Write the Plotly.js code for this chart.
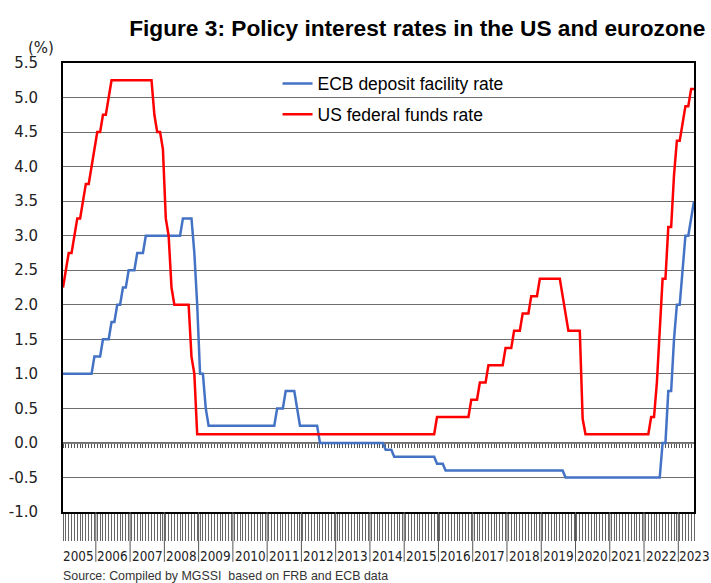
<!DOCTYPE html>
<html><head><meta charset="utf-8">
<script src="https://cdn.plot.ly/plotly-3.0.1.min.js"></script>
<style>html,body{margin:0;padding:0;background:#fff}</style>
</head><body><div id="chart" style="width:711px;height:583px"></div>
<script>
// ---- data (monthly, Jan 2005 - Jun 2023) ----
const years = [2005,2006,2007,2008,2009,2010,2011,2012,2013,2014,2015,2016,2017,2018,2019,2020,2021,2022,2023];

const ecbDepositRate = [
  1,1,1,1,1,1,1,1,1,1,1,1.25,                                  // 2005
  1.25,1.25,1.5,1.5,1.5,1.75,1.75,2,2,2.25,2.25,2.5,           // 2006
  2.5,2.5,2.75,2.75,2.75,3,3,3,3,3,3,3,                        // 2007
  3,3,3,3,3,3,3.25,3.25,3.25,3.25,2.75,2,                      // 2008
  1,1,0.5,0.25,0.25,0.25,0.25,0.25,0.25,0.25,0.25,0.25,        // 2009
  0.25,0.25,0.25,0.25,0.25,0.25,0.25,0.25,0.25,0.25,0.25,0.25, // 2010
  0.25,0.25,0.25,0.5,0.5,0.5,0.75,0.75,0.75,0.75,0.5,0.25,     // 2011
  0.25,0.25,0.25,0.25,0.25,0.25,0,0,0,0,0,0,                   // 2012
  0,0,0,0,0,0,0,0,0,0,0,0,                                     // 2013
  0,0,0,0,0,-0.1,-0.1,-0.1,-0.2,-0.2,-0.2,-0.2,                // 2014
  -0.2,-0.2,-0.2,-0.2,-0.2,-0.2,-0.2,-0.2,-0.2,-0.2,-0.2,-0.3, // 2015
  -0.3,-0.3,-0.4,-0.4,-0.4,-0.4,-0.4,-0.4,-0.4,-0.4,-0.4,-0.4, // 2016
  -0.4,-0.4,-0.4,-0.4,-0.4,-0.4,-0.4,-0.4,-0.4,-0.4,-0.4,-0.4, // 2017
  -0.4,-0.4,-0.4,-0.4,-0.4,-0.4,-0.4,-0.4,-0.4,-0.4,-0.4,-0.4, // 2018
  -0.4,-0.4,-0.4,-0.4,-0.4,-0.4,-0.4,-0.4,-0.5,-0.5,-0.5,-0.5, // 2019
  -0.5,-0.5,-0.5,-0.5,-0.5,-0.5,-0.5,-0.5,-0.5,-0.5,-0.5,-0.5, // 2020
  -0.5,-0.5,-0.5,-0.5,-0.5,-0.5,-0.5,-0.5,-0.5,-0.5,-0.5,-0.5, // 2021
  -0.5,-0.5,-0.5,-0.5,-0.5,-0.5,0,0,0.75,0.75,1.5,2,           // 2022
  2,2.5,3,3,3.25,3.5                                           // 2023
];

const usFedFundsRate = [
  2.25,2.5,2.75,2.75,3,3.25,3.25,3.5,3.75,3.75,4,4.25,                 // 2005
  4.5,4.5,4.75,4.75,5,5.25,5.25,5.25,5.25,5.25,5.25,5.25,              // 2006
  5.25,5.25,5.25,5.25,5.25,5.25,5.25,5.25,4.75,4.5,4.5,4.25,           // 2007
  3.25,3,2.25,2,2,2,2,2,2,1.25,1,0.125,                                // 2008
  0.125,0.125,0.125,0.125,0.125,0.125,0.125,0.125,0.125,0.125,0.125,0.125, // 2009
  0.125,0.125,0.125,0.125,0.125,0.125,0.125,0.125,0.125,0.125,0.125,0.125, // 2010
  0.125,0.125,0.125,0.125,0.125,0.125,0.125,0.125,0.125,0.125,0.125,0.125, // 2011
  0.125,0.125,0.125,0.125,0.125,0.125,0.125,0.125,0.125,0.125,0.125,0.125, // 2012
  0.125,0.125,0.125,0.125,0.125,0.125,0.125,0.125,0.125,0.125,0.125,0.125, // 2013
  0.125,0.125,0.125,0.125,0.125,0.125,0.125,0.125,0.125,0.125,0.125,0.125, // 2014
  0.125,0.125,0.125,0.125,0.125,0.125,0.125,0.125,0.125,0.125,0.125,0.375, // 2015
  0.375,0.375,0.375,0.375,0.375,0.375,0.375,0.375,0.375,0.375,0.375,0.625, // 2016
  0.625,0.625,0.875,0.875,0.875,1.125,1.125,1.125,1.125,1.125,1.125,1.375, // 2017
  1.375,1.375,1.625,1.625,1.625,1.875,1.875,1.875,2.125,2.125,2.125,2.375, // 2018
  2.375,2.375,2.375,2.375,2.375,2.375,2.375,2.125,1.875,1.625,1.625,1.625, // 2019
  1.625,1.625,0.35,0.125,0.125,0.125,0.125,0.125,0.125,0.125,0.125,0.125,  // 2020
  0.125,0.125,0.125,0.125,0.125,0.125,0.125,0.125,0.125,0.125,0.125,0.125, // 2021
  0.125,0.125,0.375,0.375,0.875,1.625,2.375,2.375,3.125,3.125,3.875,4.375, // 2022
  4.375,4.625,4.875,4.875,5.125,5.125                                  // 2023
];

const yTickVals = [-1,-0.5,0,0.5,1,1.5,2,2.5,3,3.5,4,4.5,5,5.5];
const seriesNames = ['ECB deposit facility rate', 'US federal funds rate'];
const seriesColors = ['#4472c4', '#ff0000'];
const titleText = 'Figure 3: Policy interest rates in the US and eurozone';
const sourceText = 'Source: Compiled by MGSSI&nbsp; based on FRB and ECB data';
const unitText = '(%)';

// ---- derived ----
const months = [];
years.forEach(y => { for (let m = 1; m <= 12; m++) months.push(y + '-' + String(m).padStart(2, '0')); });
const n = ecbDepositRate.length;
const monthLabels = months.slice(0, n);
const xIdx = monthLabels.map((_, i) => i);
const yMin = yTickVals[0], yMax = yTickVals[yTickVals.length - 1];
const zeroPos = (0 - yMin) / (yMax - yMin);
const yearBounds = years.map((_, k) => k * 12 - 0.5).filter(v => v > 0 && v < n - 1);
const yearCenters = years.map((_, k) => Math.min(k * 12 + 5.5, n - 1));

const traces = [
  {x: xIdx, y: ecbDepositRate, type: 'scatter', mode: 'lines', name: seriesNames[0],
   line: {color: seriesColors[0], width: 2.5}, legendgroup: 'a', hoverinfo: 'skip'},
  {x: xIdx, y: usFedFundsRate, type: 'scatter', mode: 'lines', name: seriesNames[1], xaxis: 'x2',
   line: {color: seriesColors[1], width: 2.5}, legendgroup: 'b', hoverinfo: 'skip'}
];

const annotations = years.map((y, k) => ({
  x: yearCenters[k], xref: 'x', y: -0.1, yref: 'paper', text: String(y), showarrow: false,
  xanchor: 'center', yanchor: 'middle',
  font: {family: 'DejaVu Sans Condensed, DejaVu Sans', size: 13.4, color: '#222'}
}));
annotations.push({x: -0.035, xref: 'paper', y: 1.033, yref: 'paper', text: unitText, showarrow: false,
  xanchor: 'center', yanchor: 'middle', font: {family: 'DejaVu Sans', size: 15, color: '#222'}});
annotations.push({x: -0.003, xref: 'paper', y: -0.1425, yref: 'paper', text: sourceText, showarrow: false,
  xanchor: 'left', yanchor: 'middle', font: {family: 'Liberation Sans, Arial', size: 12.4, color: '#333'}});

// year separators of the category axis
const shapes = yearBounds.map(v => ({
  type: 'line', xref: 'x', yref: 'paper', x0: v, x1: v, y0: 0, y1: -0.111,
  line: {color: '#555', width: 1}, layer: 'above'
}));

const layout = {
  width: 711, height: 583,
  margin: {l: 63, r: 17, t: 63, b: 71},
  paper_bgcolor: '#fff', plot_bgcolor: '#fff',
  showlegend: true,
  legend: {x: 0.340, y: 0.994, xanchor: 'left', yanchor: 'top', bgcolor: 'rgba(0,0,0,0)',
    font: {family: 'Liberation Sans, Arial', size: 17.5, color: '#000'}, tracegroupgap: 5},
  title: {text: titleText, font: {family: 'Liberation Sans, Arial', size: 22.7, color: '#000', weight: 'bold'},
    xref: 'container', x: 0.992, xanchor: 'right', yref: 'container', y: 1 - 28 / 583, yanchor: 'middle'},
  xaxis: {range: [0, n - 1], showgrid: false, zeroline: false, showline: true, mirror: true,
    linecolor: '#000', linewidth: 2, ticks: 'outside', tickmode: 'linear', tick0: 0, dtick: 1,
    ticklen: 27, tickcolor: '#666', tickwidth: 1, showticklabels: false},
  xaxis2: {matches: 'x', overlaying: 'x', anchor: 'free', position: zeroPos, side: 'bottom',
    tickmode: 'linear', tick0: 0, dtick: 1, ticks: 'outside', ticklen: 4, tickcolor: '#555', tickwidth: 1,
    showline: true, linecolor: '#7f7f7f', linewidth: 1.5, showticklabels: false, showgrid: false, zeroline: false,
    layer: 'below traces'},
  yaxis: {range: [yMin, yMax], tickmode: 'array', tickvals: yTickVals, ticktext: yTickVals.map(v => v.toFixed(1)),
    showgrid: true, gridcolor: '#6e6e6e', gridwidth: 1, zeroline: false, showline: true, mirror: true,
    linecolor: '#000', linewidth: 2, ticks: '', ticklabelstandoff: 20,
    tickfont: {family: 'DejaVu Sans', size: 15, color: '#222'}},
  shapes: shapes,
  annotations: annotations
};

Plotly.newPlot('chart', traces, layout, {displayModeBar: false, staticPlot: true});
</script>
</body></html>
